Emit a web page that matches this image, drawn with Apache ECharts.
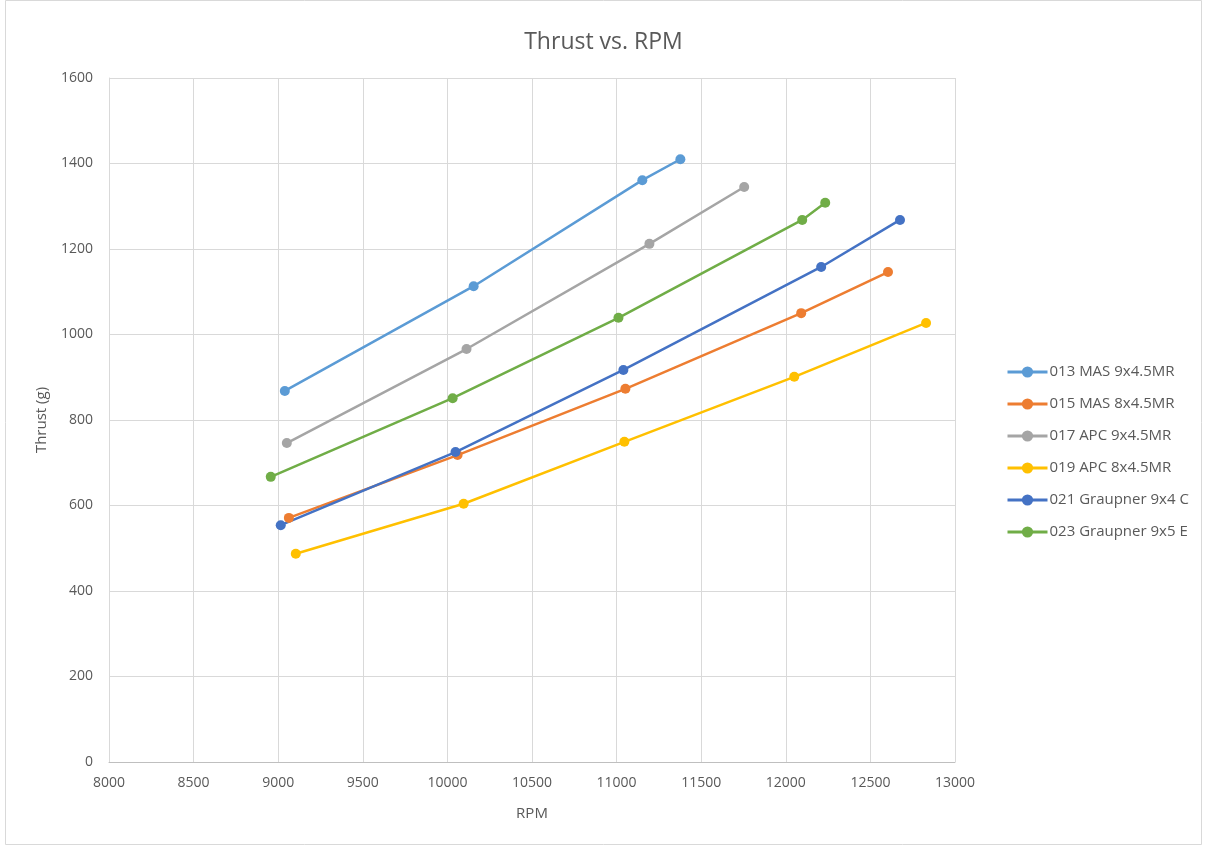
<!DOCTYPE html>
<html>
<head>
<meta charset="utf-8">
<script src="https://cdn.jsdelivr.net/npm/echarts@6/dist/echarts.min.js"></script>
<style>
  html, body { margin: 0; padding: 0; background: #fff; }
  #chart { width: 1207px; height: 846px; }
</style>
</head>
<body>
<div id="chart"></div>
<script>
// Propeller test runs: RPM vs. static thrust (g)
const seriesNames = [
  '013 MAS 9x4.5MR',
  '015 MAS 8x4.5MR',
  '017 APC 9x4.5MR',
  '019 APC 8x4.5MR',
  '021 Graupner 9x4 C',
  '023 Graupner 9x5 E'
];
const seriesColors = ['#5B9BD5', '#ED7D31', '#A5A5A5', '#FFC000', '#4472C4', '#70AD47'];

const rpm013 = [9039, 10155, 11152, 11377];
const thrust013 = [868, 1113, 1361, 1410];

const rpm015 = [9063, 10060, 11052, 12091, 12604];
const thrust015 = [571, 718, 873, 1050, 1146];

const rpm017 = [9051, 10113, 11194, 11754];
const thrust017 = [746, 966, 1212, 1345];

const rpm019 = [9104, 10096, 11046, 12050, 12829];
const thrust019 = [487, 604, 749, 901, 1027];

const rpm021 = [9015, 10048, 11040, 12209, 12675];
const thrust021 = [554, 725, 917, 1158, 1268];

const rpm023 = [8956, 10031, 11011, 12097, 12233];
const thrust023 = [667, 851, 1039, 1268, 1308];

const rpmSets = [rpm013, rpm015, rpm017, rpm019, rpm021, rpm023];
const thrustSets = [thrust013, thrust015, thrust017, thrust019, thrust021, thrust023];

const FONT = '"Open Sans", Lato, sans-serif';
const TEXT = '#595959';

const chart = echarts.init(document.getElementById('chart'), null, { renderer: 'canvas' });

const series = seriesNames.map((name, i) => ({
  name: name,
  type: 'line',
  data: rpmSets[i].map((r, k) => [r, thrustSets[i][k]]),
  symbol: 'circle',
  symbolSize: 10,
  showSymbol: true,
  lineStyle: { width: 2.5, color: seriesColors[i] },
  itemStyle: { color: seriesColors[i] },
  emphasis: { disabled: true },
  animation: false
}));

const plain = v => String(v);

chart.setOption({
  backgroundColor: '#ffffff',
  animation: false,
  title: {
    text: 'Thrust vs. RPM',
    left: 'center',
    top: 26,
    textStyle: { fontFamily: FONT, fontSize: 23, fontWeight: 'normal', color: TEXT }
  },
  graphic: [{
    type: 'rect',
    shape: { x: 5.5, y: 0.5, width: 1196, height: 844 },
    style: { fill: 'none', stroke: '#D9D9D9', lineWidth: 1 },
    silent: true
  }],
  legend: {
    orient: 'vertical',
    left: 1001,
    top: 357,
    itemGap: 12,
    itemWidth: 40,
    itemHeight: 14,
    lineStyle: { width: 3 },
    textStyle: { fontFamily: FONT, fontSize: 15, color: TEXT, lineHeight: 20, padding: [0, 0, 0, -3] },
    data: seriesNames
  },
  grid: { left: 109, right: 252, top: 78, bottom: 84, containLabel: false },
  xAxis: {
    type: 'value',
    min: 8000,
    max: 13000,
    interval: 500,
    name: 'RPM',
    nameLocation: 'middle',
    nameGap: 44,
    nameTextStyle: { fontFamily: FONT, fontSize: 15, color: TEXT },
    axisLine: { show: true, lineStyle: { color: '#BFBFBF', width: 1 } },
    axisTick: { show: false },
    axisLabel: { fontFamily: FONT, fontSize: 14, color: TEXT, margin: 14, formatter: plain },
    splitLine: { show: true, lineStyle: { color: '#D9D9D9', width: 1 } }
  },
  yAxis: {
    type: 'value',
    min: 0,
    max: 1600,
    interval: 200,
    name: 'Thrust (g)',
    nameLocation: 'middle',
    nameGap: 60,
    nameRotate: 90,
    nameTextStyle: { fontFamily: FONT, fontSize: 15, color: TEXT },
    axisLine: { show: true, lineStyle: { color: '#D9D9D9', width: 1 } },
    axisTick: { show: false },
    axisLabel: { fontFamily: FONT, fontSize: 14, color: TEXT, margin: 16, formatter: plain },
    splitLine: { show: true, lineStyle: { color: '#D9D9D9', width: 1 } }
  },
  series: series
});
</script>
</body>
</html>
